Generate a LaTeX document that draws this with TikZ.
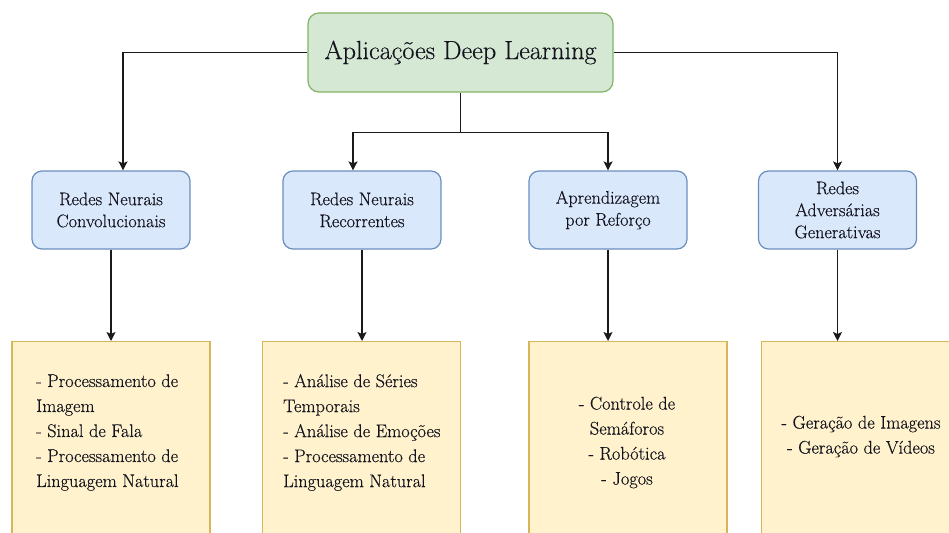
\documentclass[tikz,border=0pt]{standalone}
\usepackage{fontspec}
\setmainfont{Latin Modern Roman}[FakeBold=0.35]
\usetikzlibrary{arrows.meta}
\definecolor{rootfill}{HTML}{D5E8D4}
\definecolor{rootline}{HTML}{82B366}
\definecolor{catfill}{HTML}{DAE8FC}
\definecolor{catline}{HTML}{6C8EBF}
\definecolor{appfill}{HTML}{FFF2CC}
\definecolor{appline}{HTML}{D6B656}
\definecolor{ink}{HTML}{14141E}
\definecolor{wire}{HTML}{1A1A1A}
\tikzset{
  rootbox/.style={draw=rootline, fill=rootfill, line width=1.2pt, rounded corners=11pt,
    minimum width=305pt, minimum height=79pt, inner sep=0pt, text=ink,
    font=\fontsize{26.2}{30}\selectfont},
  catbox/.style={draw=catline, fill=catfill, line width=1.2pt, rounded corners=10pt,
    minimum width=158pt, minimum height=78pt, inner sep=0pt, align=center, text=ink,
    font=\fontsize{18.2}{22}\selectfont},
  appbox/.style={draw=appline, fill=appfill, line width=1.2pt,
    minimum width=198pt, minimum height=220pt, inner sep=0pt, anchor=north},
  apptext/.style={inner sep=0pt, text=ink, font=\fontsize{18.3}{25}\selectfont},
  link/.style={draw=wire, line width=1.5pt},
  arr/.style={link, -{Stealth[length=9pt,width=9pt,inset=2pt]}}
}
\begin{document}
\begin{tikzpicture}[x=1pt,y=-1pt]
  \clip (0,0) rectangle (949,532);
  \fill[white] (0,0) rectangle (949,532);

  % root
  \node[rootbox] (root) at (460.5,52.5) {Aplicações Deep Learning};

  % categories
  \node[catbox] (cnn) at (111,210) {Redes Neurais\\Convolucionais};
  \node[catbox] (rnn) at (362,210) {Redes Neurais\\Recorrentes};
  \node[catbox] (rl)  at (608,210) {Aprendizagem\\por Reforço};
  \node[catbox] (gan) at (837.5,210) {Redes\\Adversárias\\Generativas};

  % application boxes
  \node[appbox] (appcnn) at (111,341) {};
  \node[appbox] (apprnn) at (361.5,341) {};
  \node[appbox] (apprl)  at (628,341) {};
  \node[appbox] (appgan) at (860.5,341) {};

  \node[apptext, anchor=west, align=left] (tcnn) at (36,432.5)
    {- Processamento de\\Imagem\\- Sinal de Fala\\- Processamento de\\Linguagem Natural};
  \node[apptext, anchor=west, align=left] (trnn) at (283,432.5)
    {- Análise de Séries\\Temporais\\- Análise de Emoções\\- Processamento de\\Linguagem Natural};
  \node[apptext, align=center] (trl) at (627,442.5)
    {- Controle de\\Semáforos\\- Robótica\\- Jogos};
  \node[apptext, align=center] (tgan) at (861,436.5)
    {- Geração de Imagens\\- Geração de Vídeos};

  % root to categories
  \draw[arr] (root.west) -| ([xshift=12pt]cnn.north);
  \draw[arr] (root.east) -| (gan.north);
  \coordinate (hub) at ([yshift=-40pt]root.south);
  \draw[link] (root.south) -- (hub);
  \draw[arr] (hub) -| ([xshift=-9pt]rnn.north);
  \draw[arr] (hub) -| (rl.north);

  % categories to applications
  \draw[arr] (cnn.south) -- (cnn.south |- appcnn.north);
  \draw[arr] (rnn.south) -- (rnn.south |- apprnn.north);
  \draw[arr] (rl.south)  -- (rl.south |- apprl.north);
  \draw[arr] (gan.south) -- (gan.south |- appgan.north);
\end{tikzpicture}
\end{document}
